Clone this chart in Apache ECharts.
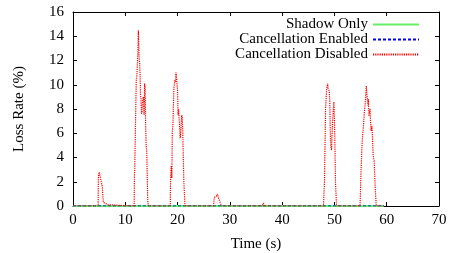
<!DOCTYPE html>
<html>
<head>
<meta charset="utf-8">
<script src="https://cdn.jsdelivr.net/npm/echarts@6/dist/echarts.min.js"></script>
<style>
  html, body { margin: 0; padding: 0; background: #fff; }
  #chart { width: 459px; height: 253px; }
</style>
</head>
<body>
<div id="chart"></div>
<script>
// loss rate (%) over time (s)
const shadowTime = [0, 59.5]
const shadowLoss = [0, 0]
const enabledTime = [0, 59.5]
const enabledLoss = [0, 0]
const disabledTime = [
  0, 4.8, 4.85, 5.0, 5.15, 5.3, 5.45, 5.6, 5.8, 6.0, 6.7, 6.8,
  11.7, 11.75, 11.8, 12.1, 12.2, 12.4, 12.5, 12.55, 12.65, 12.75, 12.85, 12.9, 13.0, 13.1, 13.2, 13.3, 13.45, 13.6, 13.7, 13.8, 13.9, 14.0, 14.1, 14.3, 14.4,
  18.6, 18.65, 18.8, 18.9, 19.0, 19.1, 19.3, 19.5, 19.6, 19.7, 19.8, 19.9, 20.0, 20.1, 20.2, 20.3, 20.4, 20.5, 20.6, 20.8, 20.9, 21.0, 21.2, 21.4, 21.6,
  26.9, 27.0, 27.4, 27.6, 27.8, 28.1, 28.4,
  36.2, 36.4, 36.6,
  47.9, 48.1, 48.3, 48.4, 48.5, 48.7, 48.8, 49.0, 49.1, 49.2, 49.3, 49.45, 49.6, 49.8, 49.9, 50.0, 50.1, 50.2, 50.4,
  54.9, 55.1, 55.3, 55.5, 55.7, 55.9, 56.1, 56.2, 56.4, 56.5, 56.6, 56.8, 57.0, 57.2, 57.4, 57.6, 57.8, 58.0, 59.5
]
const disabledLoss = [
  0, 0, 2.4, 2.8, 2.95, 2.7, 1.9, 1.6, 0.3, 0.2, 0.1, 0,
  0, 2.6, 2.9, 10.4, 10.6, 12.5, 14.5, 13.8, 12.2, 11.8, 10.5, 9.2, 8.8, 7.6, 7.8, 8.6, 9.0, 7.5, 10.1, 9.6, 6.5, 4.9, 4.6, 0.4, 0,
  0, 2.2, 3.3, 2.3, 6.2, 6.6, 9.8, 10.4, 10.2, 11.0, 10.6, 10.0, 9.6, 7.5, 8.0, 7.2, 6.5, 5.6, 6.0, 7.5, 7.3, 6.0, 2.0, 0.2, 0,
  0, 0.7, 0.8, 1.0, 0.7, 0.6, 0,
  0, 0.25, 0,
  0, 2.0, 7.9, 8.8, 9.6, 10.1, 9.7, 9.5, 8.8, 6.3, 5.0, 4.6, 6.5, 8.0, 8.6, 7.2, 5.0, 2.0, 0,
  0, 3.0, 5.3, 6.3, 7.6, 8.5, 9.9, 9.2, 8.3, 8.8, 7.4, 8.0, 6.2, 6.6, 4.2, 3.7, 1.5, 0, 0
]
const xTicks = { min: 0, max: 70, interval: 10 }
const yTicks = { min: 0, max: 16, interval: 2 }

const font = 'Liberation Serif'
const pairs = (xs, ys) => xs.map((x, i) => [x, ys[i]])

const chart = echarts.init(document.getElementById('chart'))

const axisCommon = {
  type: 'value',
  splitLine: { show: false },
  axisLine: { show: true, onZero: false, lineStyle: { color: '#000', width: 1 } },
  axisTick: { show: true, inside: true, length: 4, lineStyle: { color: '#000' } },
  axisLabel: { color: '#000', fontFamily: font, fontSize: 15 }
}
const nameStyle = { fontFamily: font, fontSize: 15, color: '#000' }

const option = {
  animation: false,
  backgroundColor: '#fff',
  textStyle: { fontFamily: font },
  grid: { left: 73, right: 20, top: 12, bottom: 47, outerBoundsMode: 'none', containLabel: false },
  legend: {
    orient: 'vertical',
    align: 'right',
    right: 39,
    top: 17,
    padding: 0,
    itemWidth: 46,
    itemHeight: 15,
    itemGap: 0,
    itemStyle: { opacity: 0 },
    textStyle: { fontFamily: font, fontSize: 15, color: '#000' },
    data: ['Shadow Only', 'Cancellation Enabled', 'Cancellation Disabled']
  },
  xAxis: [
    Object.assign({}, axisCommon, xTicks, {
      position: 'bottom',
      name: 'Time (s)',
      nameLocation: 'middle',
      nameGap: 31,
      nameTextStyle: nameStyle,
      axisLabel: Object.assign({}, axisCommon.axisLabel, { margin: 7 })
    }),
    Object.assign({}, axisCommon, xTicks, {
      position: 'top',
      axisLabel: { show: false }
    })
  ],
  yAxis: [
    Object.assign({}, axisCommon, yTicks, {
      position: 'left',
      name: 'Loss Rate (%)',
      nameLocation: 'middle',
      nameGap: 46,
      nameTextStyle: nameStyle,
      axisLabel: Object.assign({}, axisCommon.axisLabel, { margin: 9 })
    }),
    Object.assign({}, axisCommon, yTicks, {
      position: 'right',
      axisLabel: { show: false }
    })
  ],
  series: [
    {
      name: 'Shadow Only',
      type: 'line',
      symbol: 'none',
      color: '#66ee66',
      lineStyle: { width: 2, color: '#66ee66' },
      data: pairs(shadowTime, shadowLoss)
    },
    {
      name: 'Cancellation Enabled',
      type: 'line',
      symbol: 'none',
      color: '#0000ee',
      lineStyle: { width: 1, type: [3, 2], color: '#0000ee' },
      data: pairs(enabledTime, enabledLoss)
    },
    {
      name: 'Cancellation Disabled',
      type: 'line',
      symbol: 'none',
      color: '#ff0000',
      lineStyle: { width: 1.2, type: [1.2, 1], color: '#ff0000' },
      data: pairs(disabledTime, disabledLoss)
    }
  ]
}

chart.setOption(option)
</script>
</body>
</html>
